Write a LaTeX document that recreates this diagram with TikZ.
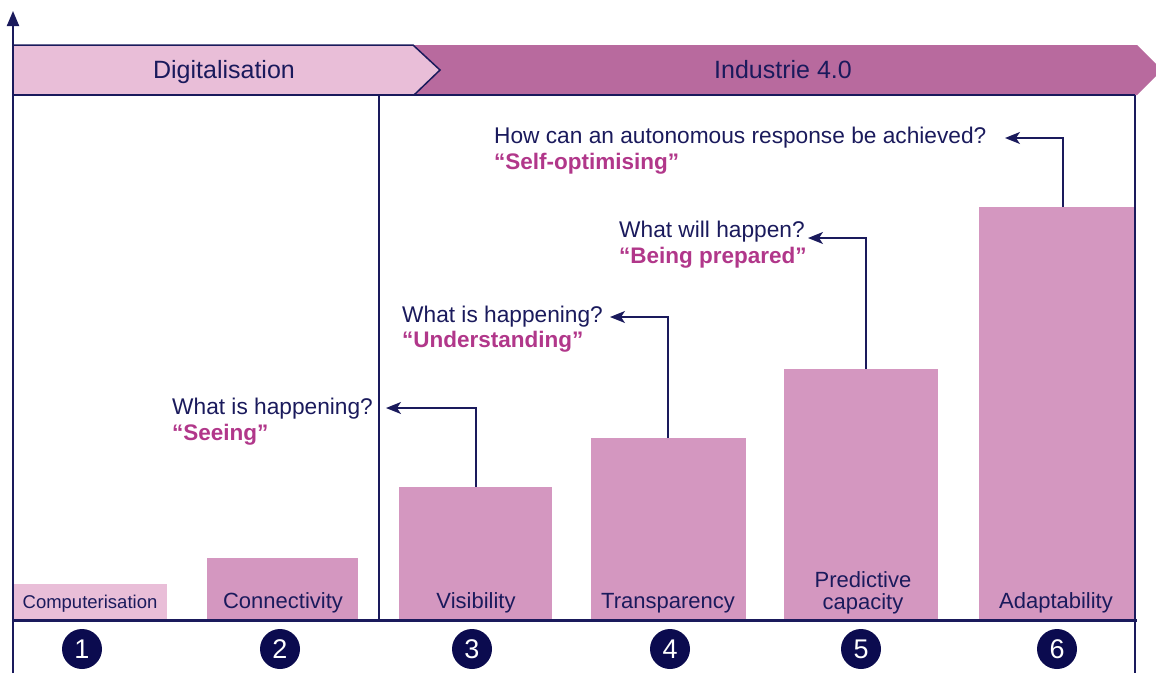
\documentclass[tikz,border=0pt]{standalone}
\usepackage{fontspec}
\setmainfont{Liberation Sans}
\usetikzlibrary{arrows.meta}
\definecolor{navy}{HTML}{1A1A5C}
\definecolor{dnavy}{HTML}{0B0B4F}
\definecolor{magtext}{HTML}{B1378A}
\definecolor{barpink}{HTML}{D497C0}
\definecolor{lightpink}{HTML}{E9BED8}
\definecolor{bannerpink}{HTML}{B86A9E}
\tikzset{
  bar/.style={fill=barpink, draw=none, inner sep=0pt, outer sep=0pt, anchor=south west},
  lightbar/.style={bar, fill=lightpink},
  lab/.style={text=navy, font=\fontsize{22}{26}\selectfont, anchor=base, inner sep=0pt},
  smalllab/.style={lab, font=\fontsize{18.5}{22}\selectfont},
  question/.style={text=navy, font=\fontsize{22.7}{26}\selectfont, anchor=base west, inner sep=0pt},
  answer/.style={text=magtext, font=\fontsize{22.5}{26}\selectfont\bfseries, anchor=base west, inner sep=0pt},
  num/.style={circle, fill=dnavy, minimum size=40pt, inner sep=0pt, text=white, font=\fontsize{27}{27}\selectfont},
  banner/.style={text=navy, font=\fontsize{25}{30}\selectfont, anchor=base, inner sep=0pt},
  conn/.style={draw=navy, line width=1.6pt, -{Stealth[length=15pt,width=12pt,inset=4pt]}},
  frame/.style={draw=navy, line width=1.5pt},
}
\begin{document}
\begin{tikzpicture}[x=1pt,y=-1pt]
\useasboundingbox (0,0) rectangle (1156,673);
% banner
\fill[bannerpink] (413,45) -- (1137,45) -- (1162,70) -- (1137,95) -- (414,95) -- (440,70) -- cycle;
\fill[lightpink] (13,45) -- (413,45) -- (440,70) -- (414,95) -- (13,95) -- cycle;
\draw[frame] (13,45) -- (413,45) -- (440,70) -- (414,95);
\node[banner] (dig) at (224,78) {Digitalisation};
\node[banner] (ind) at (783,78) {Industrie 4.0};
% bars
\node[lightbar, minimum width=154pt, minimum height=36pt] (b1) at (13,620) {};
\node[bar, minimum width=151pt, minimum height=62pt] (b2) at (207,620) {};
\node[bar, minimum width=153pt, minimum height=133pt] (b3) at (399,620) {};
\node[bar, minimum width=155pt, minimum height=182pt] (b4) at (591,620) {};
\node[bar, minimum width=154pt, minimum height=251pt] (b5) at (784,620) {};
\node[bar, minimum width=155pt, minimum height=413pt] (b6) at (979,620) {};
% bar labels
\node[smalllab] (l1) at (90,608) {Computerisation};
\node[lab] (l2) at (283,608) {Connectivity};
\node[lab] (l3) at (476,608) {Visibility};
\node[lab] (l4) at (668,608) {Transparency};
\node[lab] (l5a) at (863,587) {Predictive};
\node[lab] (l5b) at (863,609) {capacity};
\node[lab] (l6) at (1056,608) {Adaptability};
% frame
\draw[frame] (13,95) -- (1135,95);
\draw[frame] (379,95) -- (379,620);
\draw[navy, line width=2pt] (1135,95) -- (1135,673);
\draw[navy, line width=3pt] (13,620) -- (1137,620);
\draw[navy, line width=2pt, -{Triangle[length=15pt,width=12pt]}] (13,673) -- (13,11);
% numbers
\node[num] (n1) at (82,649) {1};
\node[num] (n2) at (280,649) {2};
\node[num] (n3) at (472,649) {3};
\node[num] (n4) at (670,649) {4};
\node[num] (n5) at (861,649) {5};
\node[num] (n6) at (1057,649) {6};
% questions
\node[question] (q3) at (172,414) {What is happening?};
\node[answer] (s3) at (172,440) {“Seeing”};
\node[question] (q4) at (402,322) {What is happening?};
\node[answer] (s4) at (402,347) {“Understanding”};
\node[question] (q5) at (619,237) {What will happen?};
\node[answer] (s5) at (619,263) {“Being prepared”};
\node[question] (q6) at (494,143) {How can an autonomous response be achieved?};
\node[answer] (s6) at (494,169) {“Self-optimising”};
% connectors
\coordinate (k3) at (476,408); \coordinate (t3) at (386,408);
\coordinate (k4) at (668,317); \coordinate (t4) at (610,317);
\coordinate (k5) at (866,238); \coordinate (t5) at (808,238);
\coordinate (k6) at (1063,138); \coordinate (t6) at (1005,138);
\draw[conn] (b3.north -| k3) -- (k3) -- (t3);
\draw[conn] (b4.north -| k4) -- (k4) -- (t4);
\draw[conn] (b5.north -| k5) -- (k5) -- (t5);
\draw[conn] (b6.north -| k6) -- (k6) -- (t6);
\end{tikzpicture}
\end{document}
